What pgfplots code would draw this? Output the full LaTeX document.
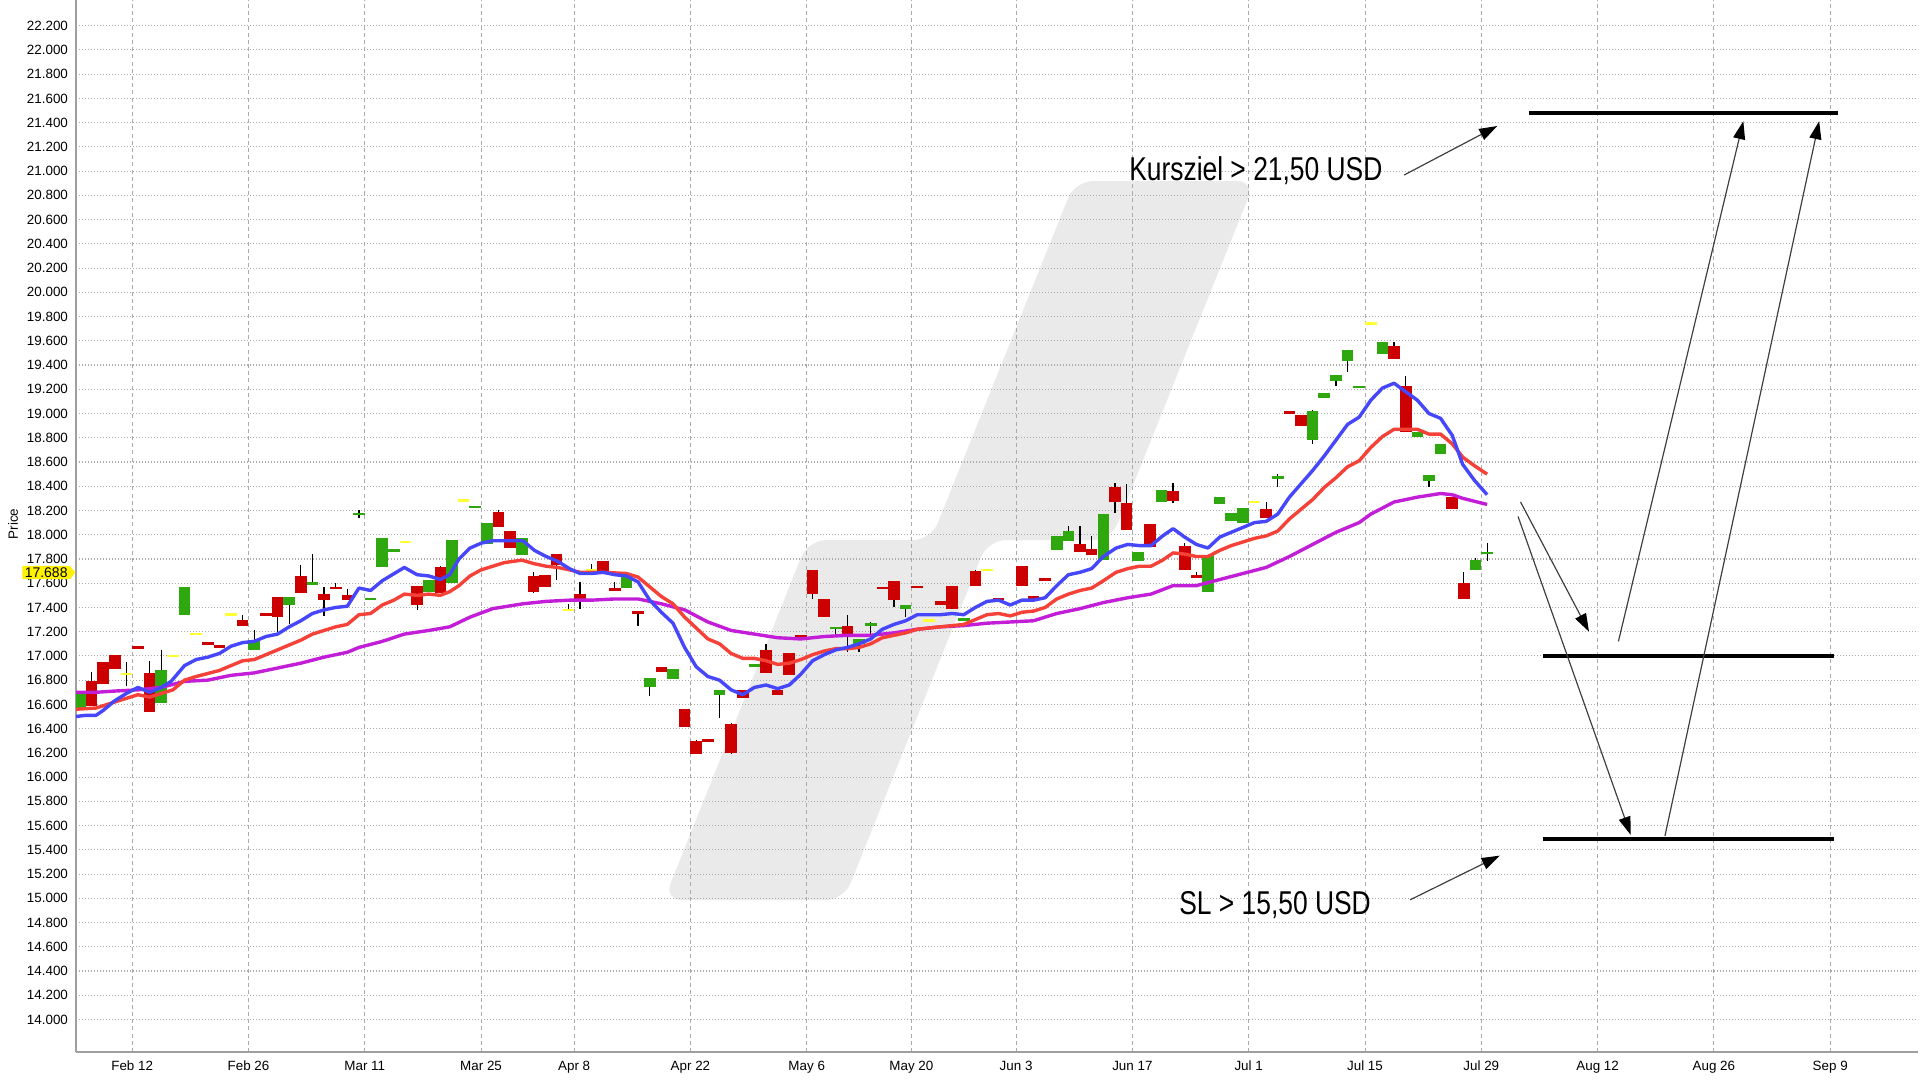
\documentclass[border=0pt]{standalone}
\usepackage{fontspec}
\setmainfont{Liberation Sans}
\newfontfamily\condfont{Liberation Sans}[FakeStretch=0.8]
\usepackage{pgfplots}
\pgfplotsset{compat=1.18}
\usepackage{pgfplotstable}
\usetikzlibrary{arrows.meta,shapes.symbols}

\definecolor{cgreen}{RGB}{46,168,14}
\definecolor{cred}{RGB}{204,0,0}
\definecolor{cyel}{RGB}{255,255,50}
\definecolor{mablue}{RGB}{70,70,250}
\definecolor{mared}{RGB}{245,65,55}
\definecolor{mamag}{RGB}{195,30,215}
\definecolor{wm}{RGB}{234,234,234}
\definecolor{gridc}{RGB}{170,170,170}

\pgfplotstableread{
d t b h l
-4.5 16.69 16.57 16.69 16.57
2.5 16.88 16.61 17.05 16.61
4.5 17.57 17.34 17.57 17.34
10.5 17.13 17.05 17.21 17.05
13.5 17.49 17.42 17.49 17.26
15.5 17.61 17.59 17.84 17.59
19.5 18.18 18.16 18.20 18.14
20.5 17.48 17.46 17.48 17.46
21.5 17.97 17.73 17.97 17.73
22.5 17.88 17.86 17.88 17.86
25.5 17.63 17.53 17.63 17.53
27.5 17.96 17.60 17.96 17.60
29.5 18.24 18.22 18.24 18.22
30.5 18.10 17.92 18.10 17.92
33.5 17.97 17.83 17.97 17.83
42.5 17.66 17.56 17.66 17.56
44.5 16.82 16.74 16.82 16.67
46.5 16.89 16.81 16.89 16.81
50.5 16.72 16.68 16.72 16.49
53.5 16.93 16.91 16.93 16.91
60.5 17.24 17.22 17.24 17.18
62.5 17.14 17.10 17.14 17.03
63.5 17.27 17.25 17.28 17.18
66.5 17.42 17.39 17.42 17.32
71.5 17.31 17.29 17.31 17.29
79.5 17.99 17.87 17.99 17.87
80.5 18.03 17.95 18.07 17.95
83.5 18.17 17.79 18.17 17.79
86.5 17.86 17.78 17.86 17.78
88.5 18.37 18.27 18.37 18.27
92.5 17.83 17.53 17.83 17.53
93.5 18.31 18.25 18.31 18.25
94.5 18.18 18.11 18.18 18.11
95.5 18.22 18.10 18.22 18.10
98.5 18.48 18.46 18.50 18.39
101.5 19.02 18.78 19.03 18.75
102.5 19.17 19.13 19.17 19.13
103.5 19.32 19.27 19.32 19.23
104.5 19.52 19.43 19.52 19.34
105.5 19.23 19.21 19.23 19.21
107.5 19.59 19.49 19.59 19.49
110.5 18.85 18.81 18.85 18.81
111.5 18.49 18.44 18.49 18.39
112.5 18.75 18.67 18.75 18.67
115.5 17.79 17.71 17.81 17.71
116.5 17.86 17.84 17.93 17.78
}\greentab

\pgfplotstableread{
d t b h l
-3.5 16.79 16.59 16.87 16.59
-2.5 16.95 16.77 16.95 16.77
-1.5 17.01 16.89 17.01 16.89
0.5 17.08 17.06 17.08 17.06
1.5 16.86 16.54 16.96 16.54
6.5 17.11 17.09 17.11 17.09
7.5 17.09 17.07 17.09 17.07
9.5 17.30 17.25 17.34 17.25
11.5 17.35 17.33 17.35 17.33
12.5 17.49 17.32 17.49 17.20
14.5 17.66 17.52 17.75 17.52
16.5 17.51 17.46 17.57 17.33
17.5 17.57 17.55 17.60 17.55
18.5 17.50 17.46 17.55 17.46
24.5 17.58 17.42 17.58 17.38
26.5 17.73 17.52 17.74 17.52
31.5 18.19 18.06 18.20 18.06
32.5 18.03 17.89 18.03 17.89
34.5 17.66 17.53 17.69 17.52
35.5 17.67 17.57 17.67 17.57
36.5 17.84 17.75 17.84 17.63
38.5 17.51 17.46 17.61 17.39
40.5 17.78 17.70 17.78 17.70
41.5 17.56 17.54 17.61 17.54
43.5 17.37 17.35 17.37 17.25
45.5 16.91 16.87 16.91 16.87
47.5 16.56 16.41 16.56 16.41
48.5 16.30 16.19 16.31 16.19
49.5 16.31 16.29 16.31 16.29
51.5 16.44 16.20 16.45 16.19
52.5 16.72 16.65 16.72 16.65
54.5 17.05 16.86 17.10 16.86
55.5 16.72 16.68 16.72 16.68
56.5 17.02 16.84 17.02 16.84
57.5 17.17 17.15 17.17 17.15
58.5 17.71 17.51 17.71 17.47
59.5 17.47 17.32 17.47 17.32
61.5 17.25 17.18 17.34 17.03
64.5 17.57 17.55 17.57 17.55
65.5 17.62 17.46 17.62 17.40
67.5 17.58 17.56 17.58 17.56
69.5 17.45 17.42 17.45 17.42
70.5 17.58 17.39 17.58 17.39
72.5 17.70 17.58 17.71 17.58
74.5 17.48 17.46 17.48 17.46
76.5 17.74 17.58 17.74 17.58
77.5 17.49 17.47 17.49 17.47
78.5 17.64 17.62 17.64 17.62
81.5 17.92 17.86 18.07 17.86
82.5 17.88 17.83 17.99 17.83
84.5 18.39 18.27 18.43 18.18
85.5 18.26 18.04 18.42 18.04
87.5 18.09 17.90 18.09 17.90
89.5 18.36 18.28 18.43 18.26
90.5 17.91 17.71 17.93 17.71
91.5 17.67 17.64 17.69 17.64
97.5 18.21 18.14 18.27 18.14
99.5 19.02 19.00 19.02 19.00
100.5 18.99 18.90 18.99 18.90
108.5 19.56 19.45 19.59 19.45
109.5 19.23 18.85 19.31 18.85
113.5 18.31 18.21 18.31 18.21
114.5 17.60 17.47 17.69 17.47
}\redtab

\pgfplotstableread{
d v h l
-0.5 16.85 16.95 16.75
3.5 17.00 17.00 17.00
5.5 17.18 17.18 17.18
8.5 17.34 17.34 17.34
23.5 17.94 17.94 17.94
28.5 18.28 18.28 18.28
37.5 17.38 17.43 17.38
39.5 17.71 17.76 17.71
68.5 17.29 17.29 17.29
73.5 17.71 17.71 17.71
96.5 18.27 18.27 18.27
106.5 19.74 19.74 19.74
}\yeltab

\begin{document}
\begin{tikzpicture}
\begin{axis}[
  set layers, clip mode=individual,
  scale only axis, width=921pt, height=526pt,
  xmin=-4.83, xmax=153.55, ymin=13.732, ymax=22.412,
  axis x line*=bottom, axis y line*=left,
  x axis line style={-, draw=gray!75, line width=1.3pt},
  y axis line style={-, draw=gray!75, line width=0.6pt},
  xtick={0,10,20,30,38,48,58,67,76,86,96,106,116,126,136,146},
  xticklabels={Feb 12,Feb 26,Mar 11,Mar 25,Apr 8,Apr 22,May 6,May 20,Jun 3,Jun 17,Jul 1,Jul 15,Jul 29,Aug 12,Aug 26,Sep 9},
  ytick={14,14.2,14.4,14.6,14.8,15,15.2,15.4,15.6,15.8,16,16.2,16.4,16.6,16.8,17,17.2,17.4,17.6,17.8,18,18.2,18.4,18.6,18.8,19,19.2,19.4,19.6,19.8,20,20.2,20.4,20.6,20.8,21,21.2,21.4,21.6,21.8,22,22.2},
  yticklabel style={/pgf/number format/fixed, /pgf/number format/fixed zerofill, /pgf/number format/precision=3, /pgf/number format/1000 sep={}, /pgf/number format/assume math mode=true, xshift=-0.5pt},
  tick label style={font=\fontsize{6.7}{7.5}\selectfont, text=black},
  xticklabel style={yshift=-1pt},
  tick style={draw=none},
  grid=major,
  x grid style={gridc, line width=0.45pt, dash pattern=on 2pt off 1.6pt},
  y grid style={gridc, line width=0.55pt, dash pattern=on 0.6pt off 0.9pt},
]
\begin{pgfonlayer}{axis background}
\fill[wm, rounded corners=9pt] (axis cs:81.06,20.918) -- (axis cs:96.54,20.918) -- (axis cs:84.16,17.956) -- (axis cs:73.58,17.956) -- (axis cs:61.19,14.986) -- (axis cs:45.72,14.986) -- (axis cs:58.11,17.956) -- (axis cs:68.68,17.956) -- cycle;
\end{pgfonlayer}

% wicks
\addplot[draw=none, mark=none, forget plot, error bars/.cd, y dir=both, y explicit, error mark=none, error bar style={draw=black, line width=0.6pt}]
  table[x=d, y expr={(\thisrow{h}+\thisrow{l})/2}, y error expr={(\thisrow{h}-\thisrow{l})/2}] {\greentab};
\addplot[draw=none, mark=none, forget plot, error bars/.cd, y dir=both, y explicit, error mark=none, error bar style={draw=black, line width=0.6pt}]
  table[x=d, y expr={(\thisrow{h}+\thisrow{l})/2}, y error expr={(\thisrow{h}-\thisrow{l})/2}] {\redtab};
\addplot[draw=none, mark=none, forget plot, error bars/.cd, y dir=both, y explicit, error mark=none, error bar style={draw=black, line width=0.6pt}]
  table[x=d, y expr={(\thisrow{h}+\thisrow{l})/2}, y error expr={(\thisrow{h}-\thisrow{l})/2}] {\yeltab};
% bodies
\addplot[draw=none, mark=none, forget plot, error bars/.cd, y dir=both, y explicit, error mark=none, error bar style={draw=cgreen, line width=5.8pt}]
  table[x=d, y expr={(\thisrow{t}+\thisrow{b})/2}, y error expr={max((\thisrow{t}-\thisrow{b})/2,0.011)}] {\greentab};
\addplot[draw=none, mark=none, forget plot, error bars/.cd, y dir=both, y explicit, error mark=none, error bar style={draw=cred, line width=5.8pt}]
  table[x=d, y expr={(\thisrow{t}+\thisrow{b})/2}, y error expr={max((\thisrow{t}-\thisrow{b})/2,0.011)}] {\redtab};
\addplot[draw=none, mark=none, forget plot, error bars/.cd, y dir=both, y explicit, error mark=none, error bar style={draw=cyel, line width=5.8pt}]
  table[x=d, y=v, y error expr={0.011}] {\yeltab};

% moving averages
\addplot[mamag, line width=1.7pt, mark=none, line join=round] coordinates {
(-4.83,16.70) (-3.1,16.70) (-1.5,16.71) (0.5,16.72) (2.5,16.74) (4.5,16.79) (6.5,16.80) (8.5,16.84) (10.5,16.86) (12.5,16.90) (14.5,16.94) (16.5,16.99) (18.5,17.03) (19.5,17.07) (21.5,17.12) (23.4,17.18) (25.5,17.21) (27.3,17.24) (29.05,17.32) (31,17.39) (33.6,17.43) (35.6,17.45) (37.6,17.46) (39.5,17.46) (41.5,17.47) (43.5,17.47) (45.5,17.43) (47.5,17.38) (49.5,17.28) (51.5,17.21) (53.5,17.18) (55.5,17.15) (57.5,17.14) (59.5,17.16) (61.5,17.17) (63.5,17.17) (65.5,17.19) (67.5,17.22) (69.5,17.24) (71.5,17.25) (73.5,17.27) (75.5,17.28) (77.5,17.29) (79.5,17.35) (81.5,17.39) (83.5,17.44) (85.6,17.48) (87.6,17.51) (89.5,17.58) (91.5,17.58) (93.5,17.63) (95.5,17.68) (97.5,17.73) (99.5,17.82) (101.5,17.92) (103.5,18.02) (105.5,18.10) (106.5,18.17) (108.5,18.27) (110.5,18.31) (112.5,18.34) (113.5,18.33) (114.4,18.30) (116.5,18.25)
};
\addplot[mared, line width=1.7pt, mark=none, line join=round] coordinates {
(-4.83,16.56) (-3.1,16.57) (-1.5,16.62) (-0.5,16.65) (0.5,16.68) (1.5,16.66) (2.5,16.69) (3.5,16.72) (4.5,16.80) (5.5,16.83) (7.5,16.88) (8.5,16.92) (9.5,16.96) (10.5,16.97) (11.5,17.01) (12.5,17.05) (13.5,17.09) (14.5,17.13) (15.5,17.18) (16.5,17.21) (17.5,17.24) (18.5,17.26) (19.5,17.34) (20.5,17.35) (21.5,17.42) (22.5,17.46) (23.4,17.51) (24.5,17.50) (25.5,17.51) (26.5,17.50) (27.3,17.53) (28.1,17.58) (29.05,17.66) (30,17.71) (31,17.74) (32,17.77) (33.5,17.79) (34.6,17.76) (35.6,17.74) (36.6,17.73) (37.6,17.71) (38.5,17.69) (40.5,17.69) (42.5,17.68) (43.5,17.65) (44.5,17.57) (45.5,17.49) (46.5,17.43) (47.5,17.32) (48.5,17.23) (49.5,17.14) (50.5,17.10) (51.5,17.02) (52.5,16.98) (53.5,16.98) (54.5,16.96) (55.5,16.93) (56.5,16.94) (57.5,16.97) (58.5,17.01) (59.5,17.04) (60.5,17.06) (61.5,17.06) (62.5,17.07) (63.5,17.10) (64.5,17.15) (65.5,17.17) (66.5,17.19) (67.5,17.22) (68.5,17.23) (69.5,17.24) (70.5,17.25) (71.5,17.26) (72.5,17.30) (73.5,17.34) (74.5,17.35) (75.5,17.33) (76.5,17.36) (77.5,17.37) (78.5,17.40) (79.5,17.47) (80.5,17.51) (81.5,17.54) (82.5,17.56) (83.5,17.62) (84.6,17.69) (85.6,17.72) (86.6,17.74) (87.6,17.74) (88.6,17.79) (89.5,17.85) (90.5,17.84) (91.5,17.82) (92.5,17.82) (93.5,17.87) (94.5,17.91) (95.5,17.94) (96.5,17.97) (97.5,17.99) (98.5,18.03) (99.5,18.13) (100.5,18.21) (101.5,18.29) (102.5,18.39) (103.5,18.47) (104.5,18.56) (105.5,18.61) (106.5,18.72) (107.5,18.81) (108.5,18.87) (109.5,18.87) (110.5,18.87) (111.5,18.83) (112.5,18.83) (113.5,18.75) (114.4,18.64) (115.4,18.57) (116.5,18.50)
};
\addplot[mablue, line width=1.7pt, mark=none, line join=round] coordinates {
(-4.83,16.50) (-4,16.51) (-3.1,16.51) (-2.5,16.55) (-1.5,16.63) (-0.5,16.69) (0.5,16.74) (1.5,16.70) (2.5,16.74) (3.35,16.79) (4.5,16.92) (5.5,16.97) (6.5,16.99) (7.5,17.02) (8.5,17.08) (9.5,17.11) (10.5,17.12) (11.5,17.16) (12.5,17.18) (13.5,17.24) (14.5,17.29) (15.5,17.35) (16.5,17.38) (17.5,17.40) (18.5,17.41) (19.5,17.56) (20.5,17.54) (21.5,17.62) (23.4,17.73) (24.5,17.67) (25.5,17.66) (26.5,17.63) (27.3,17.67) (28.1,17.80) (29.05,17.89) (30,17.93) (31,17.95) (32,17.95) (33.6,17.95) (34.6,17.87) (35.6,17.82) (36.6,17.78) (37.6,17.72) (38.5,17.68) (39.5,17.68) (40.5,17.69) (41.5,17.67) (42.5,17.66) (43.5,17.61) (44.5,17.46) (45.5,17.36) (46.5,17.27) (47.5,17.07) (48.5,16.91) (49.5,16.83) (50.5,16.80) (51.5,16.72) (52.5,16.68) (53.5,16.74) (54.5,16.76) (55.5,16.73) (56.5,16.76) (57.5,16.85) (58.5,16.96) (59.5,17.01) (60.5,17.05) (61.5,17.07) (62.5,17.10) (63.5,17.14) (64.5,17.22) (65.5,17.26) (66.5,17.29) (67.5,17.34) (68.5,17.34) (69.5,17.34) (70.5,17.35) (71.5,17.34) (72.5,17.40) (73.5,17.45) (74.5,17.46) (75.5,17.42) (76.5,17.46) (77.5,17.46) (78.5,17.48) (79.5,17.58) (80.5,17.67) (81.5,17.69) (82.5,17.72) (83.5,17.82) (84.6,17.89) (85.6,17.92) (86.6,17.91) (87.6,17.91) (88.6,17.99) (89.5,18.05) (90.5,17.98) (91.5,17.92) (92.5,17.89) (93.5,17.98) (94.5,18.02) (95.5,18.06) (96.5,18.10) (97.5,18.11) (98.5,18.17) (99.5,18.31) (100.5,18.42) (101.5,18.53) (102.5,18.65) (103.5,18.78) (104.5,18.91) (105.5,18.97) (106.5,19.11) (107.5,19.21) (108.5,19.25) (109.5,19.18) (110.5,19.11) (111.5,19.00) (112.5,18.96) (113.5,18.82) (114.4,18.58) (115.4,18.45) (116.5,18.33)
};

% target and stop lines
\addplot[black, line width=2.3pt, mark=none] coordinates {(120.1,21.48) (146.7,21.48)};
\addplot[black, line width=2.3pt, mark=none] coordinates {(121.3,17.00) (146.3,17.00)};
\addplot[black, line width=2.3pt, mark=none] coordinates {(121.3,15.49) (146.3,15.49)};

% arrows
\addplot[black!75, line width=0.6pt, mark=none, -{Triangle[length=9pt,width=6pt,black]}] coordinates {(109.37,20.968) (117.37,21.372)};
\addplot[black!75, line width=0.6pt, mark=none, -{Triangle[length=9pt,width=6pt,black]}] coordinates {(109.89,14.988) (117.58,15.352)};
\addplot[black!75, line width=0.6pt, mark=none, -{Triangle[length=9pt,width=6pt,black]}] coordinates {(119.37,18.271) (125.26,17.200)};
\addplot[black!75, line width=0.6pt, mark=none, -{Triangle[length=9pt,width=6pt,black]}] coordinates {(119.16,18.150) (128.84,15.524)};
\addplot[black!75, line width=0.6pt, mark=none, -{Triangle[length=9pt,width=6pt,black]}] coordinates {(127.79,17.120) (138.53,21.412)};
\addplot[black!75, line width=0.6pt, mark=none, -{Triangle[length=9pt,width=6pt,black]}] coordinates {(131.79,15.514) (145.05,21.412)};

\node[anchor=base west, inner sep=0pt, font=\condfont\fontsize{16.5}{18}\selectfont] at (axis cs:85.7,20.92) {Kursziel > 21,50 USD};
\node[anchor=base west, inner sep=0pt, font=\condfont\fontsize{16.5}{18}\selectfont] at (axis cs:90.0,14.87) {SL > 15,50 USD};

\node[signal, signal to=east, signal pointer angle=100, fill=yellow, inner xsep=1.2pt, inner ysep=0.8pt, anchor=east, font=\fontsize{7}{8}\selectfont] at (axis cs:-4.83,17.688) {17.688};
\end{axis}
\node[rotate=90, font=\fontsize{6.7}{7.5}\selectfont] at (-31.5pt,264pt) {Price};
\pgfresetboundingbox
\useasboundingbox (-38pt,-14pt) rectangle (922pt,526pt);
\end{tikzpicture}
\end{document}
